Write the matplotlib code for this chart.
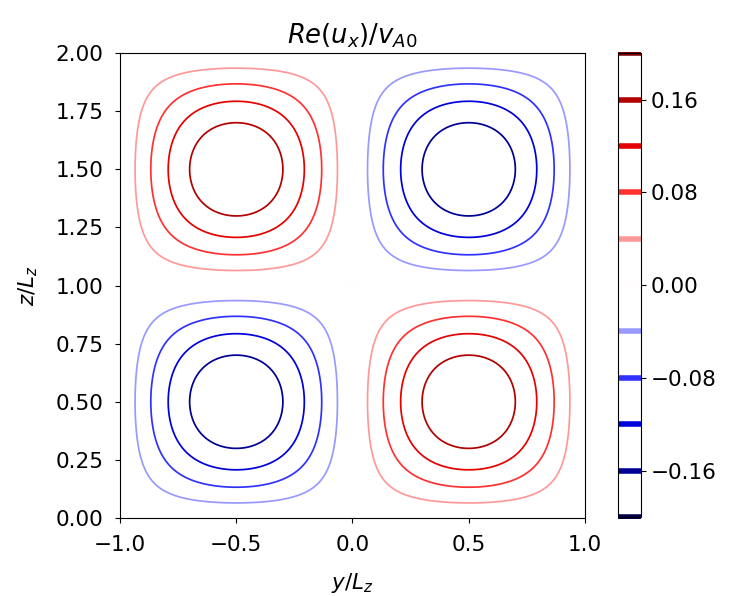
import numpy as np
import matplotlib
matplotlib.use("Agg")
import matplotlib.pyplot as plt

# mode amplitude and wavenumbers (in units of pi / L_z)
amplitud = 0.198
k_y = 1.0
k_z = 1.0

# contour levels
niveles = [-0.20, -0.16, -0.12, -0.08, -0.04, 0.00, 0.04, 0.08, 0.12, 0.16, 0.20]

# axis ticks
ticks_y = [-1.0, -0.5, 0.0, 0.5, 1.0]
ticks_z = [0.0, 0.25, 0.5, 0.75, 1.0, 1.25, 1.5, 1.75, 2.0]

plt.rcParams['font.size'] = 15.5

y = np.linspace(-1.0, 1.0, 401)
z = np.linspace(0.0, 2.0, 401)
Y, Z = np.meshgrid(y, z)
ux = amplitud * np.sin(k_y * np.pi * Y) * np.sin(k_z * np.pi * Z)

fig = plt.figure(figsize=(7.31, 5.96), dpi=100)
ax = fig.add_axes([0.1642, 0.1309, 0.636, 0.780])
cax = fig.add_axes([0.8454, 0.1326, 0.0315, 0.778])

cs = ax.contour(Y, Z, ux, levels=niveles, cmap='seismic', vmin=-0.2, vmax=0.2,
                linewidths=1.25)
ax.set_xlim(-1, 1)
ax.set_ylim(0, 2)
ax.set_xticks(ticks_y)
ax.set_yticks(ticks_z)
ax.set_yticklabels([f"{v:.2f}" for v in ticks_z])
ax.tick_params(pad=8.5)
ax.set_title(r"$Re(u_x)/v_{A0}$", pad=7)
ax.set_xlabel(r"$y/L_z$", labelpad=12)
ax.set_ylabel(r"$z/L_z$", labelpad=11)

cb = fig.colorbar(cs, cax=cax)
cb.lines[0].set_linewidth(4)

fig.savefig("out.png", dpi=100)
